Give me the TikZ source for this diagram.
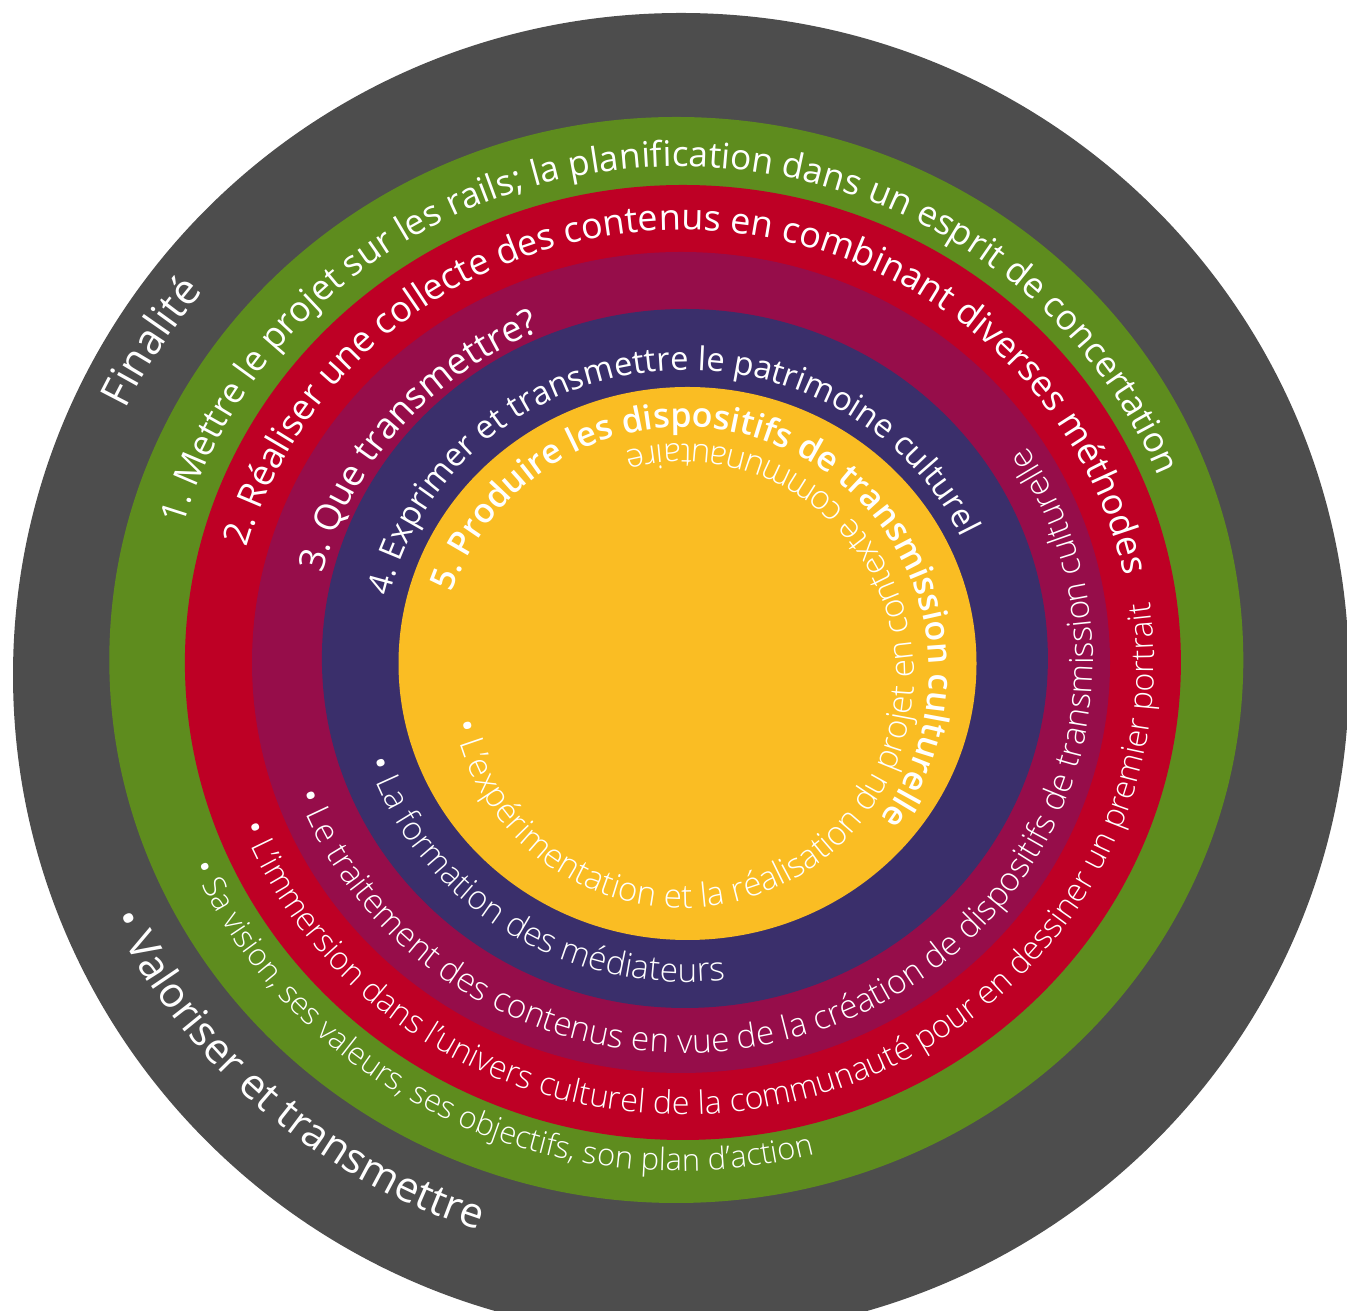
\documentclass[tikz,border=0pt]{standalone}
\usepackage{fontspec}
\setmainfont{Open Sans}
\IfFontExistsTF{Open Sans Light}{\newfontfamily\lightfont{Open Sans Light}}{\newfontfamily\lightfont{Open Sans}}
\IfFontExistsTF{Open Sans Semibold}{\newfontfamily\semifont{Open Sans Semibold}}{\newfontfamily\semifont{Open Sans}[FakeBold=0.8]}
\usetikzlibrary{decorations.text}
\definecolor{cdark}{HTML}{4D4D4D}
\definecolor{cgreen}{HTML}{5E8C1E}
\definecolor{cred}{HTML}{BE0025}
\definecolor{cpurple}{HTML}{960D4A}
\definecolor{cnavy}{HTML}{3A2F6B}
\definecolor{cyellow}{HTML}{FABD23}
% #1 cx, #2 cy, #3 rx, #4 ry, #5 start angle, #6 end angle, #7 font size, #8 text
\newcommand\arctext[8]{%
  \path[decorate, decoration={text along path, text align=center,
      text={|\fontsize{#7}{#7}\selectfont\color{white}|#8}}]
    ([shift={(#1,#2)}]#5:#3 and #4) arc[start angle=#5, end angle=#6, x radius=#3, y radius=#4];}
% light bullet item: regular bullet, light text
\newcommand\arctextl[8]{%
  \path[decorate, decoration={text along path, text align=center,
      text={|\fontsize{#7}{#7}\selectfont\color{white}|•|\lightfont\fontsize{#7}{#7}\selectfont\color{white}| #8}}]
    ([shift={(#1,#2)}]#5:#3 and #4) arc[start angle=#5, end angle=#6, x radius=#3, y radius=#4];}
\newcommand\arctextb[8]{%
  \path[decorate, decoration={text along path, text align=center,
      text={|\semifont\fontsize{#7}{#7}\selectfont\color{white}|#8}}]
    ([shift={(#1,#2)}]#5:#3 and #4) arc[start angle=#5, end angle=#6, x radius=#3, y radius=#4];}
\begin{document}
\begin{tikzpicture}[x=1pt,y=1pt]
\useasboundingbox (0,0) rectangle (1347,1311);
\clip (0,0) rectangle (1347,1311);
\fill[white] (0,0) rectangle (1347,1311);
% rings
\fill[cdark]   (681,636)     ellipse[x radius=668, y radius=662];
\fill[cgreen]  (676.3,651)   ellipse[x radius=567, y radius=543];
\fill[cred]    (682.9,648.5) ellipse[x radius=498, y radius=477.5];
\fill[cpurple] (681,648.5)   ellipse[x radius=429, y radius=410.5];
\fill[cnavy]   (684.9,652.5) ellipse[x radius=363, y radius=349.5];
\fill[cyellow] (687.5,647.5) ellipse[x radius=289, y radius=276.5];
% dark ring
\arctext{679}{651}{612}{586}{170}{126}{42}{Finalité}
\arctext{679}{651}{628}{602}{193.2}{263.2}{42}{• Valoriser et transmettre}
% green ring
\arctext{679.6}{650}{516}{494.5}{173}{13}{35.3}{1. Mettre le projet sur les rails; la planification dans un esprit de concertation}
\arctextl{679.6}{650}{532}{510}{189}{299}{31}{Sa vision, ses valeurs, ses objectifs, son plan d’action}
% red ring
\arctext{682}{648.5}{451}{432.5}{176.1}{0.1}{36}{2. Réaliser une collecte des contenus en combinant diverses méthodes}
\arctextl{682}{648.5}{472}{452}{189.5}{379.5}{32.3}{L’immersion dans l’univers culturel de la communauté pour en dessiner un premier portrait}
% purple ring
\arctext{683}{650.5}{372}{356.5}{179.5}{99.5}{36.3}{3. Que transmettre?}
\arctextl{683}{650.5}{410}{392.5}{188.4}{404.4}{33.3}{Le traitement des contenus en vue de la création de dispositifs de transmission culturelle}
% navy ring
\arctext{686}{650}{304}{291}{178.2}{14.2}{32.8}{4. Exprimer et transmettre le patrimoine culturel}
\arctextl{686}{650}{335}{321}{182.2}{292.2}{33.3}{La formation des médiateurs}
% yellow
\arctextb{684}{639}{245}{245}{177.2}{-52.8}{34}{5. Produire les dispositifs de transmission culturelle}
\arctextl{682}{635}{232}{232}{177.9}{477.9}{33.3}{L’expérimentation et la réalisation du projet en contexte communautaire}
\end{tikzpicture}
\end{document}
